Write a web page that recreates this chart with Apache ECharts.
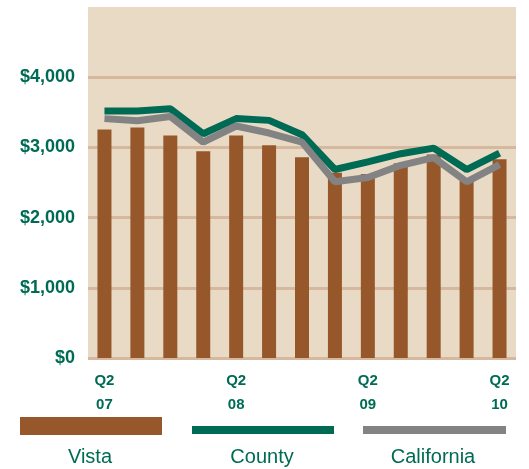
<!DOCTYPE html>
<html><head><meta charset="utf-8">
<script src="https://cdn.jsdelivr.net/npm/echarts@6/dist/echarts.min.js"></script>
<style>html,body{margin:0;padding:0;background:#fff}#c{width:529px;height:469px}</style>
</head><body><div id="c"></div>
<script>
var categories = ['Q2\n07','Q3 07','Q4 07','Q1 08','Q2\n08','Q3 08','Q4 08','Q1 09','Q2\n09','Q3 09','Q4 09','Q1 10','Q2\n10'];
var vista = [3255, 3285, 3170, 2945, 3170, 3030, 2860, 2640, 2620, 2775, 2900, 2530, 2830];
var county = [3520, 3520, 3550, 3195, 3410, 3385, 3180, 2685, 2795, 2910, 2990, 2685, 2920];
var california = [3410, 3380, 3440, 3075, 3305, 3205, 3075, 2510, 2570, 2745, 2855, 2510, 2755];
var yTicks = [0, 1000, 2000, 3000, 4000];
var legendNames = ['Vista', 'County', 'California'];

var green = '#006B54', brown = '#96582A', gray = '#838383';
var font = '"Liberation Sans Narrow", "Liberation Sans", Arial, sans-serif';
var chart = echarts.init(document.getElementById('c'), null, {renderer: 'canvas'});
chart.setOption({
  animation: false,
  grid: {left: 88, right: 13, top: 7, bottom: 111, show: true, backgroundColor: '#E8DAC5', borderWidth: 0},
  xAxis: {
    type: 'category', data: categories, boundaryGap: true,
    axisLine: {show: false}, axisTick: {show: false},
    axisLabel: {interval: 3, color: green, fontFamily: font, fontWeight: 'bold', fontSize: 15, lineHeight: 24, margin: 11,
      formatter: function (v) { return v.indexOf('\n') >= 0 ? v : ''; }}
  },
  yAxis: {
    type: 'value', min: 0, max: 5000, interval: 1000,
    axisLine: {show: false}, axisTick: {show: false},
    axisLabel: {color: green, fontFamily: font, fontWeight: 'bold', fontSize: 18, margin: 13,
      formatter: function (v) { return yTicks.indexOf(v) >= 0 ? '$' + v.toLocaleString('en-US') : ''; }},
    splitLine: {lineStyle: {color: ['#D5B89E','#D5B89E','#D5B89E','#D5B89E','#D5B89E','rgba(0,0,0,0)'], width: 3}}
  },
  legend: [
    {left: 20, top: 417, itemWidth: 142, itemHeight: 18, itemGap: 0, padding: 0, formatter: function(){return '';}, data: [{name: 'Vista', icon: 'rect'}], selectedMode: false},
    {left: 192, top: 426, itemWidth: 142, itemHeight: 8, itemGap: 0, padding: 0, formatter: function(){return '';}, data: [{name: 'County', icon: 'rect'}], selectedMode: false},
    {left: 363, top: 426, itemWidth: 143, itemHeight: 8, itemGap: 0, padding: 0, formatter: function(){return '';}, data: [{name: 'California', icon: 'rect'}], selectedMode: false}
  ],
  graphic: legendNames.map(function (n, i) {
    var cx = [90, 262, 433][i];
    return {type: 'text', x: cx, y: 457, style: {text: n, fill: green, font: '20px ' + font, align: 'center', verticalAlign: 'middle'}};
  }),
  series: [
    {name: 'Vista', type: 'bar', data: vista, barWidth: 14, itemStyle: {color: brown}},
    {name: 'County', type: 'line', data: county, showSymbol: false, symbol: 'none', lineStyle: {color: green, width: 7}, itemStyle: {color: green}},
    {name: 'California', type: 'line', data: california, showSymbol: false, symbol: 'none', lineStyle: {color: gray, width: 7}, itemStyle: {color: gray}}
  ]
});
</script></body></html>
